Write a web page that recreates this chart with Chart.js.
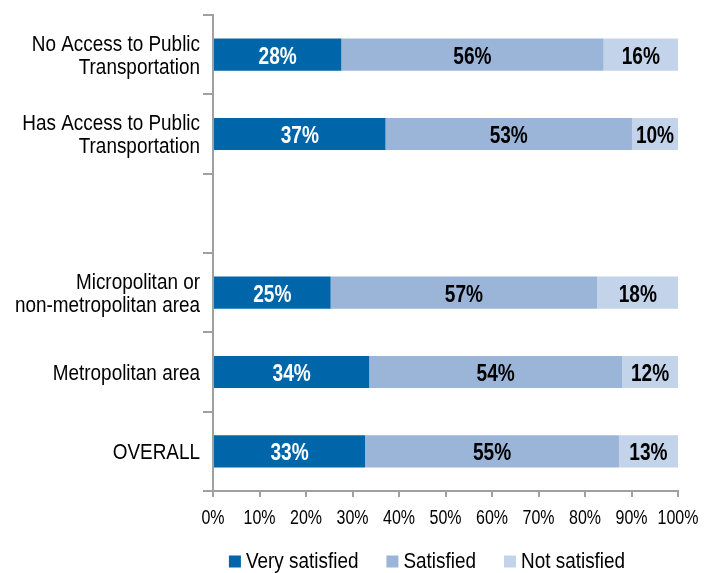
<!DOCTYPE html>
<html>
<head>
<meta charset="utf-8">
<script src="https://cdn.jsdelivr.net/npm/chart.js@4"></script>
<style>
html,body{margin:0;padding:0;background:#fff;}
#wrap{width:706px;height:573px;}
</style>
</head>
<body>
<div id="wrap"><canvas id="c" width="706" height="573"></canvas></div>
<script>
const categories = [
  ['No Access to Public', 'Transportation'],
  ['Has Access to Public', 'Transportation'],
  '',
  ['Micropolitan or', 'non-metropolitan area'],
  'Metropolitan area',
  'OVERALL'
];
const seriesNames = ['Very satisfied', 'Satisfied', 'Not satisfied'];
const verySatisfied = [27.6, 37.1, null, 25.3, 33.6, 32.7];
const satisfied     = [56.4, 53.0, null, 57.3, 54.4, 54.6];
const notSatisfied  = [16.0,  9.9, null, 17.5, 12.0, 12.7];
const xTicks = [0, 10, 20, 30, 40, 50, 60, 70, 80, 90, 100];

const FONT = '"Liberation Sans", Arial, Helvetica, sans-serif';
const NARROW = 0.88;               // horizontal squeeze to imitate a narrow face
const colors = ['#0066AA', '#9BB5D8', '#C3D3E9'];
const labelColors = ['#FFFFFF', '#000000', '#000000'];
const AXIS_GRAY = '#A0A0A0';

function narrowText(ctx, text, x, y, sx) {
  ctx.save();
  ctx.translate(x, y);
  ctx.scale(sx, 1);
  ctx.fillText(text, 0, 0);
  ctx.restore();
}
function narrowWidth(ctx, text, sx) { return ctx.measureText(text).width * sx; }

const customText = {
  id: 'customText',
  afterDatasetsDraw(chart) {
    const ctx = chart.ctx;
    ctx.save();
    // value labels centred in each segment
    ctx.font = 'bold 23px ' + FONT;
    ctx.textAlign = 'center';
    ctx.textBaseline = 'alphabetic';
    chart.data.datasets.forEach((ds, di) => {
      const meta = chart.getDatasetMeta(di);
      meta.data.forEach((el, i) => {
        const v = ds.data[i];
        if (v === null || v === undefined) return;
        ctx.fillStyle = labelColors[di];
        narrowText(ctx, Math.round(v) + '%', (el.x + el.base) / 2, el.y + 9, 0.83);
      });
    });
    ctx.restore();
  },
  afterDraw(chart) {
    const ctx = chart.ctx;
    const xs = chart.scales.x, ys = chart.scales.y;
    ctx.save();
    ctx.fillStyle = '#000';
    // y category labels
    ctx.font = '21.5px ' + FONT;
    ctx.textAlign = 'right';
    ctx.textBaseline = 'alphabetic';
    const lineH = 23.4;
    chart.data.labels.forEach((lab, i) => {
      const lines = Array.isArray(lab) ? lab : [lab];
      const cy = ys.getPixelForValue(i);
      const first = cy - (lines.length - 1) * lineH / 2;
      lines.forEach((t, k) => {
        narrowText(ctx, t, ys.right - 13, first + k * lineH + 7.7, NARROW);
      });
    });
    // x tick labels
    ctx.font = '20px ' + FONT;
    ctx.textAlign = 'center';
    xTicks.forEach(v => {
      narrowText(ctx, v + '%', xs.getPixelForValue(v), xs.top + 33, 0.8);
    });
    // legend
    ctx.font = '21.5px ' + FONT;
    ctx.textAlign = 'left';
    const box = 12, gapBox = 5, gapItem = 28;
    const widths = seriesNames.map(n => box + gapBox + narrowWidth(ctx, n, NARROW));
    const total = widths.reduce((a, b) => a + b, 0) + gapItem * (widths.length - 1);
    let x = 427 - total / 2;
    const baseY = xs.top + 77;
    seriesNames.forEach((n, i) => {
      ctx.fillStyle = colors[i];
      ctx.fillRect(x, baseY - 12.5, box, box);
      ctx.fillStyle = '#000';
      narrowText(ctx, n, x + box + gapBox, baseY, NARROW);
      x += widths[i] + gapItem;
    });
    ctx.restore();
  }
};

new Chart(document.getElementById('c'), {
  type: 'bar',
  data: {
    labels: categories,
    datasets: [
      { label: seriesNames[0], data: verySatisfied, backgroundColor: colors[0] },
      { label: seriesNames[1], data: satisfied, backgroundColor: colors[1] },
      { label: seriesNames[2], data: notSatisfied, backgroundColor: colors[2] }
    ]
  },
  options: {
    indexAxis: 'y',
    responsive: false,
    animation: false,
    devicePixelRatio: 1,
    datasets: { bar: { barPercentage: 0.405, categoryPercentage: 1.0, borderWidth: 0 } },
    layout: { padding: { top: 15, right: 28, left: 0, bottom: 72 } },
    scales: {
      x: {
        stacked: true,
        min: 0, max: 100,
        afterBuildTicks(scale) { scale.ticks = xTicks.map(v => ({ value: v })); },
        afterFit(scale) { scale.height = 10; },
        ticks: { display: false },
        grid: { drawOnChartArea: false, drawTicks: true, tickLength: 6, color: AXIS_GRAY, lineWidth: 2 },
        border: { display: true, color: AXIS_GRAY, width: 2 }
      },
      y: {
        stacked: true,
        afterFit(scale) { scale.width = 213; },
        ticks: { display: false },
        grid: { offset: true, drawOnChartArea: false, drawTicks: true, tickLength: 10, color: AXIS_GRAY, lineWidth: 2 },
        border: { display: true, color: AXIS_GRAY, width: 2 }
      }
    },
    plugins: {
      legend: { display: false },
      tooltip: { enabled: false }
    }
  },
  plugins: [customText]
});
</script>
</body>
</html>
